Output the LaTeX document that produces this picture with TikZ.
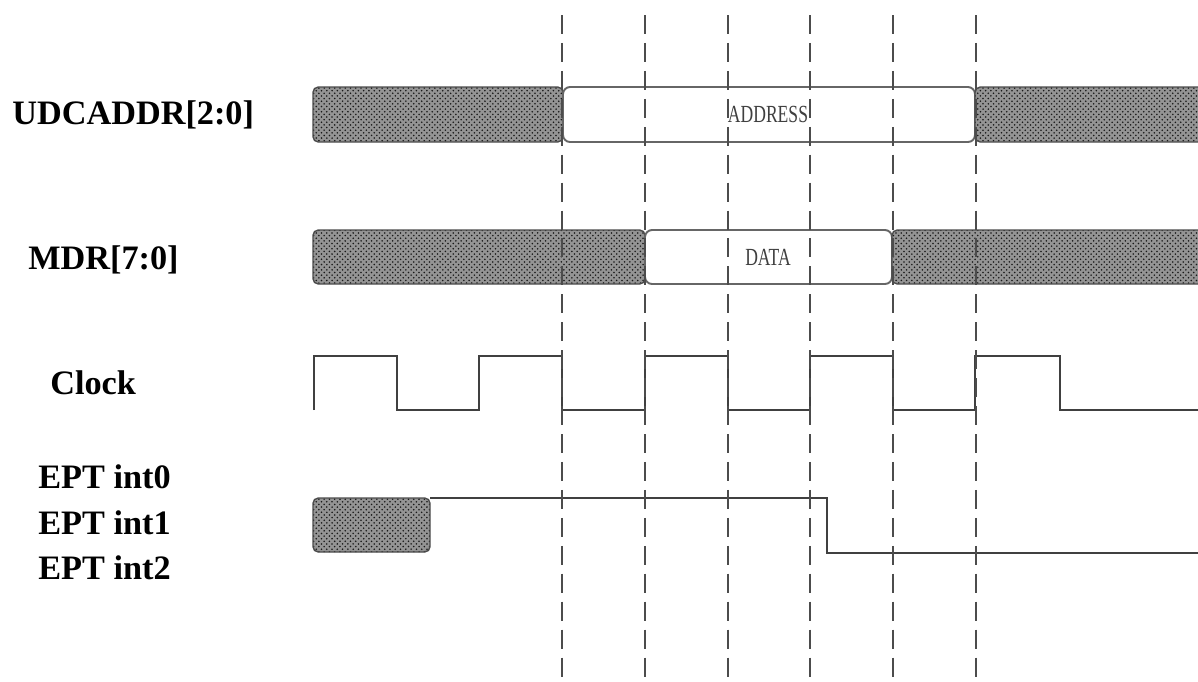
\documentclass[tikz,border=0pt]{standalone}
\usepackage{fontspec}
\setmainfont{Liberation Serif}
\usetikzlibrary{patterns}
\begin{document}
\begin{tikzpicture}[x=0.02cm,y=-0.02cm,
  sig/.style={draw=black!75, line width=1.1pt},
  hatchbox/.style={draw=black!70, line width=0.8pt, rounded corners=3pt,
    preaction={fill=black!42, rounded corners=3pt}, pattern=crosshatch dots, pattern color=black!90},
  busbox/.style={draw=black!60, line width=1.1pt, fill=white, rounded corners=4pt},
  guide/.style={draw=black!70, line width=0.9pt, dash pattern=on 10.8pt off 5.1pt},
  lbl/.style={anchor=west, inner sep=0pt, font=\fontsize{19.5}{22}\selectfont\bfseries},
  small/.style={inner sep=0pt, text=black!75, font=\fontsize{10}{12}\selectfont}
]
\useasboundingbox (0,0) rectangle (1198,681);
\fill[white] (0,0) rectangle (1198,681);

% labels
\node[lbl] (laddr) at (12,115) {UDCADDR[2:0]};
\node[lbl] (lmdr) at (28,260) {MDR[7:0]};
\node[lbl] (lclk) at (50,383) {Clock};
\node[lbl] (lint0) at (38,477) {EPT int0};
\node[lbl] (lint1) at (38,523) {EPT int1};
\node[lbl] (lint2) at (38,568) {EPT int2};

% UDCADDR bus
\path[hatchbox] (313,87) rectangle (563,142);
\path[busbox] (563,87) rectangle (975,142);
\path[hatchbox] (975,87) rectangle (1210,142);
\node[small] (addr) at (768,114) {\scalebox{1}[1.4]{ADDRESS}};

% MDR bus
\path[hatchbox] (313,230) rectangle (645,284);
\path[busbox] (645,230) rectangle (892,284);
\path[hatchbox] (892,230) rectangle (1210,284);
\node[small] (data) at (768,257) {\scalebox{1}[1.4]{DATA}};

% Clock
\draw[sig] (314,410) -- (314,356) -- (397,356) -- (397,410) -- (479,410) -- (479,356)
  -- (562,356) -- (562,410) -- (645,410) -- (645,356) -- (728,356) -- (728,410)
  -- (810,410) -- (810,356) -- (893,356) -- (893,410) -- (975,410) -- (975,356)
  -- (1060,356) -- (1060,410) -- (1210,410);

% EPT int
\path[hatchbox] (313,498) rectangle (430,552);
\draw[sig] (430,498) -- (827,498) -- (827,553) -- (1210,553);

% guide lines
\foreach \gx in {562,645,728,810,893,976}
  \draw[guide] (\gx,15) -- (\gx,690);
\end{tikzpicture}
\end{document}
